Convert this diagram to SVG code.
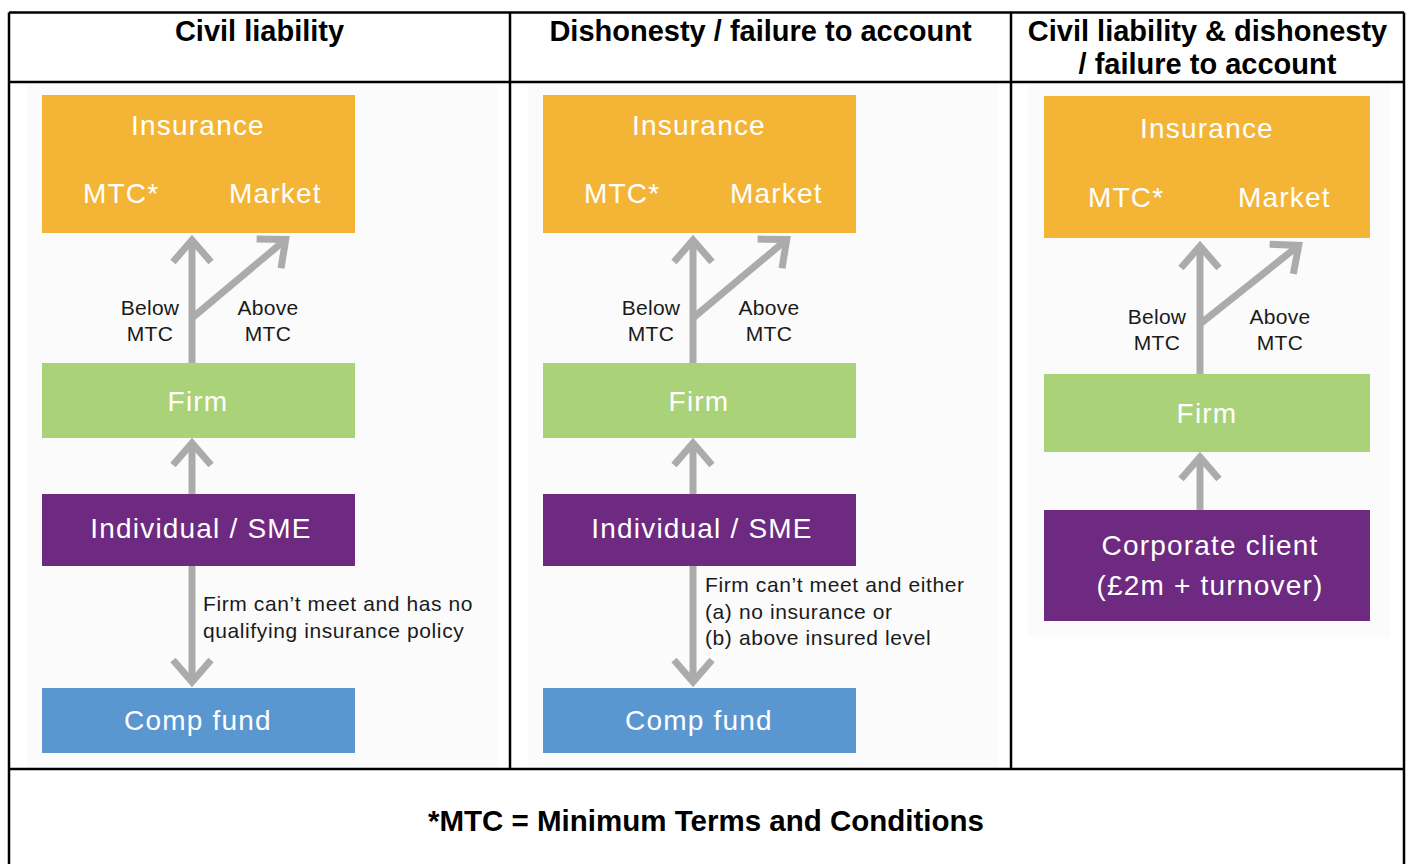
<svg xmlns="http://www.w3.org/2000/svg" width="1411" height="864" viewBox="0 0 1411 864">
<style>
.hdr{font-family:"Liberation Sans",Arial,sans-serif;font-weight:bold;font-size:29px;fill:#000;text-anchor:middle}
.foot{font-size:29.5px}
.box{font-family:"Liberation Sans",Arial,sans-serif;font-size:28px;fill:#fff;letter-spacing:1.2px}
.c{text-anchor:middle}
.lbl{font-family:"Liberation Sans",Arial,sans-serif;font-size:21px;fill:#1a1a1a;letter-spacing:0.3px}
.note{font-family:"Liberation Sans",Arial,sans-serif;font-size:21px;fill:#1a1a1a;letter-spacing:0.6px}
.conn{stroke:#ABABAB;stroke-width:7;fill:none;marker-end:url(#ah)}
.grid{stroke:#000;stroke-width:2.5;fill:none}
.panel{fill:#FBFBFB}
.ins{fill:#F4B536}.firm{fill:#A9D279}.ind{fill:#6E2A80}.comp{fill:#5A97D1}
</style>
<defs>
<marker id="ah" markerUnits="userSpaceOnUse" orient="auto" refX="0" refY="0" markerWidth="45" markerHeight="50" viewBox="-35 -25 45 50" overflow="visible">
<path d="M-22,-19 L0,0 L-22,19" fill="none" stroke="#ABABAB" stroke-width="7" stroke-linejoin="miter" stroke-miterlimit="10"/>
</marker>
</defs>
<rect x="0" y="0" width="1411" height="864" fill="#fff"/>
<g id="panels">
<rect class="panel" x="27" y="83" width="470" height="686"/>
<rect class="panel" x="528" y="83" width="470" height="686"/>
<rect class="panel" x="1028" y="83" width="362" height="554"/>
</g>
<g id="table">
<path class="grid" d="M9,12.5 H1404 M9,82 H1404 M9,769 H1404 M9,12.5 V864 M1404,12.5 V864 M510,12.5 V769 M1011,12.5 V769"/>
<text class="hdr" x="259.5" y="41">Civil liability</text>
<text class="hdr" x="760.5" y="41">Dishonesty / failure to account</text>
<text class="hdr" x="1207.5" y="41">Civil liability &amp; dishonesty</text>
<text class="hdr" x="1207.5" y="74">/ failure to account</text>
<text class="hdr foot" x="706" y="831">*MTC = Minimum Terms and Conditions</text>
</g>
<g id="connectors">
<line class="conn" x1="192" y1="363" x2="192" y2="240"/>
<line class="conn" x1="192" y1="318" x2="285.7" y2="239.5"/>
<line class="conn" x1="192" y1="494" x2="192" y2="443"/>
<line class="conn" x1="192" y1="566" x2="192" y2="682"/>
<line class="conn" x1="693" y1="363" x2="693" y2="240"/>
<line class="conn" x1="693" y1="318" x2="786.7" y2="239.5"/>
<line class="conn" x1="693" y1="494" x2="693" y2="443"/>
<line class="conn" x1="693" y1="566" x2="693" y2="682"/>
<line class="conn" x1="1200" y1="374" x2="1200" y2="246"/>
<line class="conn" x1="1200" y1="324" x2="1298.7" y2="245.4"/>
<line class="conn" x1="1200" y1="510" x2="1200" y2="457"/>
</g>
<g id="labels">
<text class="lbl c" x="150" y="315">Below</text>
<text class="lbl c" x="150" y="341">MTC</text>
<text class="lbl c" x="268" y="315">Above</text>
<text class="lbl c" x="268" y="341">MTC</text>
<text class="note" x="203" y="611">Firm can’t meet and has no</text>
<text class="note" x="203" y="638">qualifying insurance policy</text>
<text class="lbl c" x="651" y="315">Below</text>
<text class="lbl c" x="651" y="341">MTC</text>
<text class="lbl c" x="769" y="315">Above</text>
<text class="lbl c" x="769" y="341">MTC</text>
<text class="note" x="705" y="592">Firm can’t meet and either</text>
<text class="note" x="705" y="619">(a) no insurance or</text>
<text class="note" x="705" y="645">(b) above insured level</text>
<text class="lbl c" x="1157" y="324">Below</text>
<text class="lbl c" x="1157" y="350">MTC</text>
<text class="lbl c" x="1280" y="324">Above</text>
<text class="lbl c" x="1280" y="350">MTC</text>
</g>
<g id="insurance-1"><rect class="ins" x="42" y="95" width="313" height="138"/>
<text class="box c" x="198" y="135">Insurance</text><text class="box" x="83" y="203">MTC*</text><text class="box" x="229" y="203">Market</text></g>
<g id="firm-1"><rect class="firm" x="42" y="363" width="313" height="75"/><text class="box c" x="198" y="411">Firm</text></g>
<g id="individual-1"><rect class="ind" x="42" y="494" width="313" height="72"/><text class="box c" x="201" y="538">Individual / SME</text></g>
<g id="compfund-1"><rect class="comp" x="42" y="688" width="313" height="65"/><text class="box c" x="198" y="730">Comp fund</text></g>
<g id="insurance-2"><rect class="ins" x="543" y="95" width="313" height="138"/>
<text class="box c" x="699" y="135">Insurance</text><text class="box" x="584" y="203">MTC*</text><text class="box" x="730" y="203">Market</text></g>
<g id="firm-2"><rect class="firm" x="543" y="363" width="313" height="75"/><text class="box c" x="699" y="411">Firm</text></g>
<g id="individual-2"><rect class="ind" x="543" y="494" width="313" height="72"/><text class="box c" x="702" y="538">Individual / SME</text></g>
<g id="compfund-2"><rect class="comp" x="543" y="688" width="313" height="65"/><text class="box c" x="699" y="730">Comp fund</text></g>
<g id="insurance-3"><rect class="ins" x="1044" y="96" width="326" height="142"/>
<text class="box c" x="1207" y="138">Insurance</text><text class="box" x="1088" y="207">MTC*</text><text class="box" x="1238" y="207">Market</text></g>
<g id="firm-3"><rect class="firm" x="1044" y="374" width="326" height="78"/><text class="box c" x="1207" y="423">Firm</text></g>
<g id="corporate-3"><rect class="ind" x="1044" y="510" width="326" height="111"/>
<text class="box c" x="1210" y="555">Corporate client</text><text class="box c" x="1210" y="595">(£2m + turnover)</text></g>
</svg>
